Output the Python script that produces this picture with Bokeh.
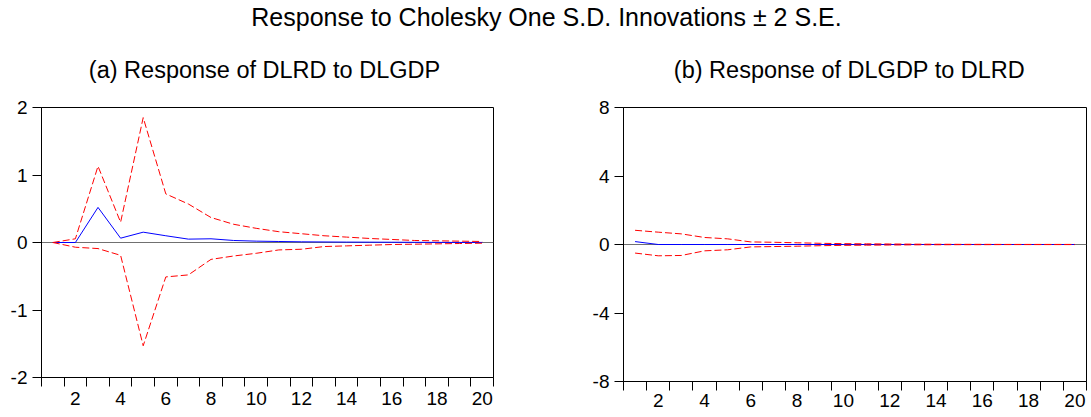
from bokeh.plotting import figure
from bokeh.layouts import column, row
from bokeh.models import Range1d, FixedTicker, Span, Label
from bokeh.embed import file_html
from bokeh.resources import INLINE

# ---- data ----
periods = list(range(1, 21))

# (a) Response of DLRD to DLGDP
a_resp = [0.0, 0.0, 0.52, 0.064, 0.153, 0.10, 0.05, 0.055, 0.03, 0.02,
          0.015, 0.01, 0.008, 0.006, 0.005, 0.004, 0.003, 0.002, 0.001, 0.001]
a_upper = [0.0, 0.055, 1.13, 0.30, 1.85, 0.72, 0.57, 0.37, 0.27, 0.21,
           0.16, 0.13, 0.10, 0.08, 0.06, 0.045, 0.03, 0.025, 0.02, 0.015]
a_lower = [0.0, -0.07, -0.09, -0.19, -1.53, -0.51, -0.48, -0.25, -0.20, -0.16,
           -0.11, -0.10, -0.06, -0.05, -0.04, -0.03, -0.025, -0.02, -0.015, -0.01]

# (b) Response of DLGDP to DLRD
b_resp = [0.17, 0.0, 0.0, 0.0, 0.0, 0.0, 0.0, 0.0, 0.0, 0.0,
          0.0, 0.0, 0.0, 0.0, 0.0, 0.0, 0.0, 0.0, 0.0, 0.0]
b_upper = [0.83, 0.72, 0.62, 0.41, 0.33, 0.15, 0.13, 0.10, 0.07, 0.05,
           0.04, 0.03, 0.02, 0.015, 0.01, 0.01, 0.005, 0.005, 0.005, 0.005]
b_lower = [-0.50, -0.66, -0.64, -0.37, -0.31, -0.14, -0.12, -0.10, -0.07, -0.05,
           -0.04, -0.03, -0.02, -0.015, -0.01, -0.01, -0.005, -0.005, -0.005, -0.005]

main_title = "Response to Cholesky One S.D. Innovations \u00b1 2 S.E."
title_a = "(a) Response of DLRD to DLGDP"
title_b = "(b) Response of DLGDP to DLRD"
x_labels = [2, 4, 6, 8, 10, 12, 14, 16, 18, 20]
a_yticks = [-2, -1, 0, 1, 2]
b_yticks = [-8, -4, 0, 4, 8]

FONT = "Liberation Sans"

# ---- header with titles (page-pixel data coordinates) ----
header = figure(width=1091, height=98, x_range=Range1d(0, 1091), y_range=Range1d(98, 0),
                x_axis_type=None, y_axis_type=None, toolbar_location=None,
                output_backend="svg", min_border=0, outline_line_color=None)
header.grid.visible = False
header.add_layout(Label(x=546, y=16, text=main_title, text_align="center",
                        text_baseline="middle", text_font=FONT, text_font_size="25px",
                        text_color="black"))
header.add_layout(Label(x=264, y=69, text=title_a, text_align="center",
                        text_baseline="middle", text_font=FONT, text_font_size="23.5px",
                        text_color="black"))
header.add_layout(Label(x=849, y=69, text=title_b, text_align="center",
                        text_baseline="middle", text_font=FONT, text_font_size="23.5px",
                        text_color="black"))


def panel(width, height, ylim, yticks, resp, upper, lower, mb_left, mb_right, mb_bottom, standoff):
    p = figure(width=width, height=height, x_range=Range1d(0.5, 20.5), y_range=Range1d(-ylim, ylim),
               toolbar_location=None, output_backend="svg",
               min_border_left=mb_left, min_border_right=mb_right,
               min_border_top=9, min_border_bottom=mb_bottom,
               outline_line_color="black", outline_line_width=1,
               background_fill_color="white", border_fill_color="white")
    p.grid.visible = False
    p.add_layout(Span(location=0, dimension="width", line_color="#707070", line_width=1,
                      level="underlay"))
    p.line(periods, resp, line_color="#0000FF", line_width=1)
    p.line(periods, upper, line_color="#FF0000", line_width=1, line_dash="7 3")
    p.line(periods, lower, line_color="#FF0000", line_width=1, line_dash="7 3")

    xa = p.xaxis[0]
    xa.ticker = FixedTicker(ticks=x_labels, minor_ticks=[i + 0.5 for i in range(0, 21)])
    xa.major_tick_out = 0
    xa.major_tick_in = 0
    xa.minor_tick_out = 9
    xa.minor_tick_in = 0
    xa.minor_tick_line_color = "black"
    xa.axis_line_color = "black"
    xa.major_label_standoff = standoff
    xa.major_label_text_font = FONT
    xa.major_label_text_font_size = "19px"
    xa.major_label_text_color = "black"

    ya = p.yaxis[0]
    ya.ticker = FixedTicker(ticks=yticks, minor_ticks=[])
    ya.major_label_overrides = {t: str(t) for t in yticks}
    ya.major_tick_out = 9
    ya.major_tick_in = 0
    ya.minor_tick_out = 0
    ya.minor_tick_in = 0
    ya.major_tick_line_color = "black"
    ya.axis_line_color = "black"
    ya.major_label_standoff = 5
    ya.major_label_text_font = FONT
    ya.major_label_text_font_size = "19px"
    ya.major_label_text_color = "black"
    return p


# left: frame x 41..493, y 107..377 ; right: frame x 623..1086, y 107..383
p1 = panel(560, 315, 2, a_yticks, a_resp, a_upper, a_lower, 41, 67, 36, 5)
p2 = panel(531, 319, 8, b_yticks, b_resp, b_upper, b_lower, 63, 5, 34, 3)

layout = column(header, row(p1, p2))
open("out.html", "w").write(file_html(layout, INLINE))
